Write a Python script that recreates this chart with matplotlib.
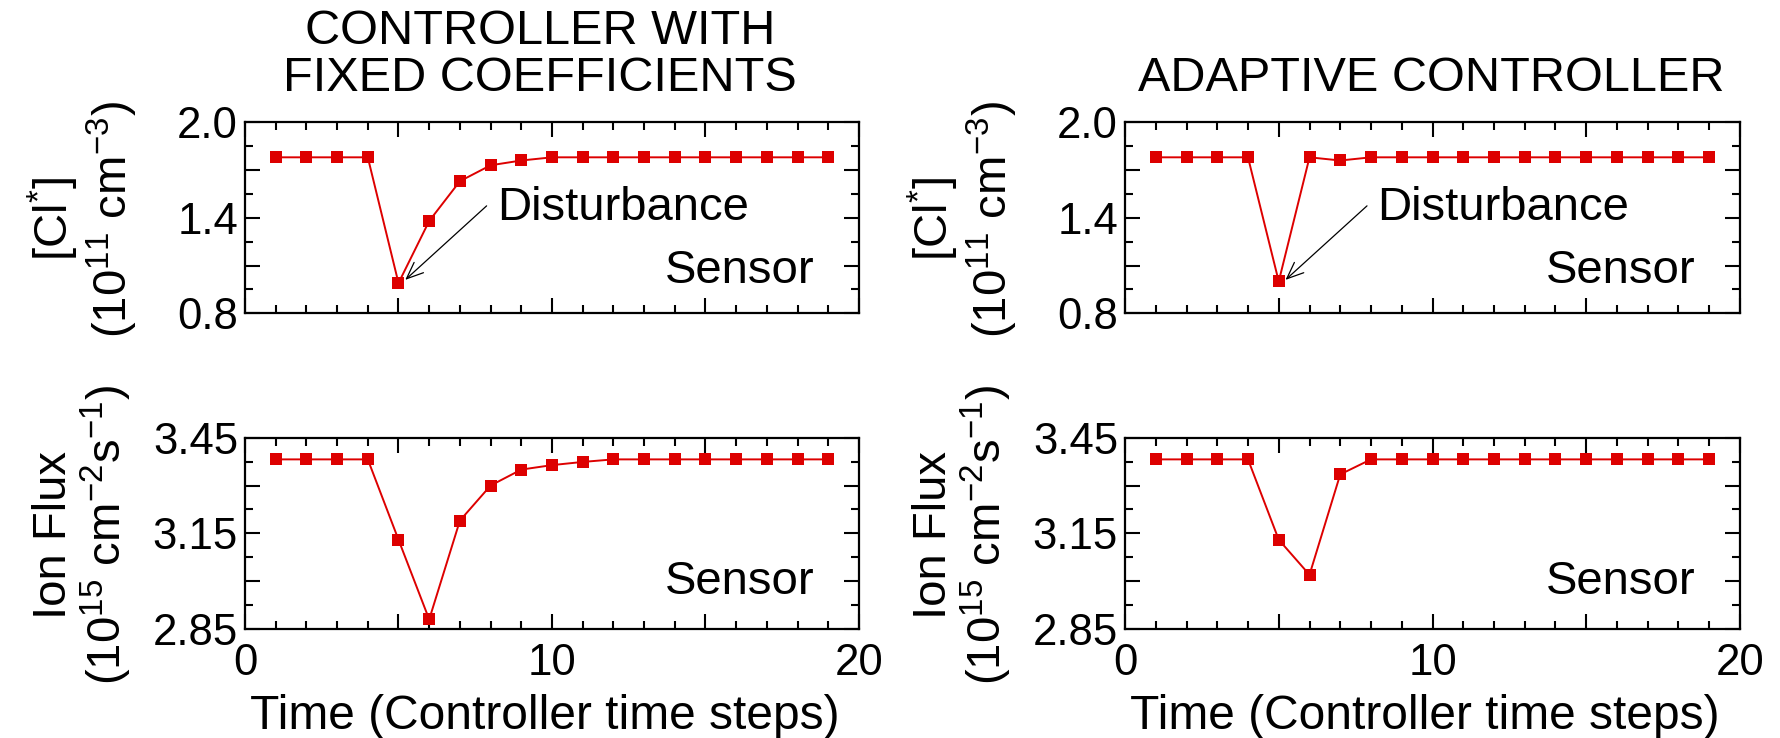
import numpy as np
import matplotlib
matplotlib.use("Agg")
import matplotlib.pyplot as plt

plt.rcParams['font.family'] = ['Liberation Sans', 'DejaVu Sans']
plt.rcParams['mathtext.fontset'] = 'custom'
plt.rcParams['mathtext.rm'] = 'Liberation Sans'
plt.rcParams['mathtext.it'] = 'Liberation Sans:italic'
plt.rcParams['mathtext.bf'] = 'Liberation Sans:bold'

# data
steps = np.arange(1, 20)
cl_fixed = [1.78, 1.78, 1.78, 1.78, 0.99, 1.38, 1.63, 1.73, 1.76, 1.78,
            1.78, 1.78, 1.78, 1.78, 1.78, 1.78, 1.78, 1.78, 1.78]
cl_adaptive = [1.78, 1.78, 1.78, 1.78, 1.00, 1.78, 1.76, 1.78, 1.78, 1.78,
               1.78, 1.78, 1.78, 1.78, 1.78, 1.78, 1.78, 1.78, 1.78]
flux_fixed = [3.382, 3.382, 3.382, 3.382, 3.13, 2.88, 3.19, 3.30, 3.35, 3.364,
              3.374, 3.382, 3.382, 3.382, 3.382, 3.382, 3.382, 3.382, 3.382]
flux_adaptive = [3.382, 3.382, 3.382, 3.382, 3.13, 3.02, 3.335, 3.382, 3.382, 3.382,
                 3.382, 3.382, 3.382, 3.382, 3.382, 3.382, 3.382, 3.382, 3.382]

titles = ["CONTROLLER WITH\nFIXED COEFFICIENTS", "ADAPTIVE CONTROLLER"]
cl_label = "[Cl$^{*}$]\n(10$^{11}$ cm$^{-3}$)"
flux_label = "Ion Flux\n(10$^{15}$ cm$^{-2}$s$^{-1}$)"
xlabel = "Time (Controller time steps)"

RED = '#dd0000'
W, H = 1781, 738
TICK_FS = 31.5
LABEL_FS = 34.5
YLAB_FS = 34
NOTE_FS = 34
TITLE_FS = 35

fig = plt.figure(figsize=(W / 100, H / 100), dpi=100)


def px_axes(left, top, right, bottom):
    return fig.add_axes([left / W, 1 - bottom / H, (right - left) / W, (bottom - top) / H])


def style(ax, bottom_panel):
    ax.set_xlim(0, 20)
    ax.set_xticks([0, 5, 10, 15, 20], labels=['0', '', '10', '', '20'])
    ax.set_xticks(np.arange(0, 21, 1), minor=True)
    if bottom_panel:
        ax.set_ylim(2.85, 3.45)
        ax.set_yticks([2.85, 3.0, 3.15, 3.3, 3.45], labels=['2.85', '', '3.15', '', '3.45'])
        ax.set_yticks(np.arange(2.85, 3.4501, 0.075), minor=True)
    else:
        ax.set_ylim(0.8, 2.0)
        ax.set_yticks([0.8, 1.1, 1.4, 1.7, 2.0], labels=['0.8', '', '1.4', '', '2.0'])
        ax.set_yticks(np.arange(0.8, 2.001, 0.15), minor=True)
    ax.tick_params(which='both', direction='in', top=True, right=True,
                   width=1.5, labelsize=TICK_FS, pad=5)
    ax.tick_params(axis='x', pad=10)
    ax.tick_params(which='major', length=11)
    ax.tick_params(which='minor', length=6)
    ax.tick_params(axis='x', labelbottom=bottom_panel)
    for s in ax.spines.values():
        s.set_linewidth(1.6)


def series(ax, y):
    ax.plot(steps, y, color=RED, lw=1.4, marker='s', markersize=8,
            markeredgewidth=0, clip_on=False)


lefts = [(245, 859), (1125, 1740)]
top_rows = (122.3, 313.3)
bot_rows = (437.7, 629.0)

cl_data = [cl_fixed, cl_adaptive]
flux_data = [flux_fixed, flux_adaptive]

for i, (l, r) in enumerate(lefts):
    ax1 = px_axes(l, top_rows[0], r, top_rows[1])
    ax2 = px_axes(l, bot_rows[0], r, bot_rows[1])
    style(ax1, False)
    style(ax2, True)
    series(ax1, cl_data[i])
    series(ax2, flux_data[i])

    ax1.annotate('', xy=(5.22, 1.01), xytext=(7.87, 1.475),
                 arrowprops=dict(arrowstyle='->,head_length=0.6,head_width=0.25',
                                 lw=0.9, color='k', mutation_scale=20,
                                 shrinkA=0, shrinkB=0))
    ax1.text(8.2, 1.385, 'Disturbance', fontsize=NOTE_FS, ha='left', va='baseline')
    ax1.text(18.55, 0.99, 'Sensor', fontsize=NOTE_FS, ha='right', va='baseline')
    ax2.text(18.55, 2.96, 'Sensor', fontsize=NOTE_FS, ha='right', va='baseline')

    ax2.set_xlabel(xlabel, fontsize=LABEL_FS, labelpad=7)
    ax2.xaxis.label.set_x(0.488)

    cx = l - 162
    fig.text(cx / W, 1 - 219 / H, cl_label, rotation=90, ha='center', va='center',
             multialignment='center', fontsize=YLAB_FS, linespacing=1.08)
    fig.text(cx / W, 1 - 535 / H, flux_label, rotation=90, ha='center', va='center',
             multialignment='center', fontsize=YLAB_FS, linespacing=1.08)

fig.text(540 / W, 1 - 91 / H, titles[0], ha='center', va='baseline',
         fontsize=TITLE_FS, linespacing=1.05)
fig.text(1431 / W, 1 - 91 / H, titles[1], ha='center', va='baseline',
         fontsize=TITLE_FS)

fig.savefig('out.png', dpi=100)
